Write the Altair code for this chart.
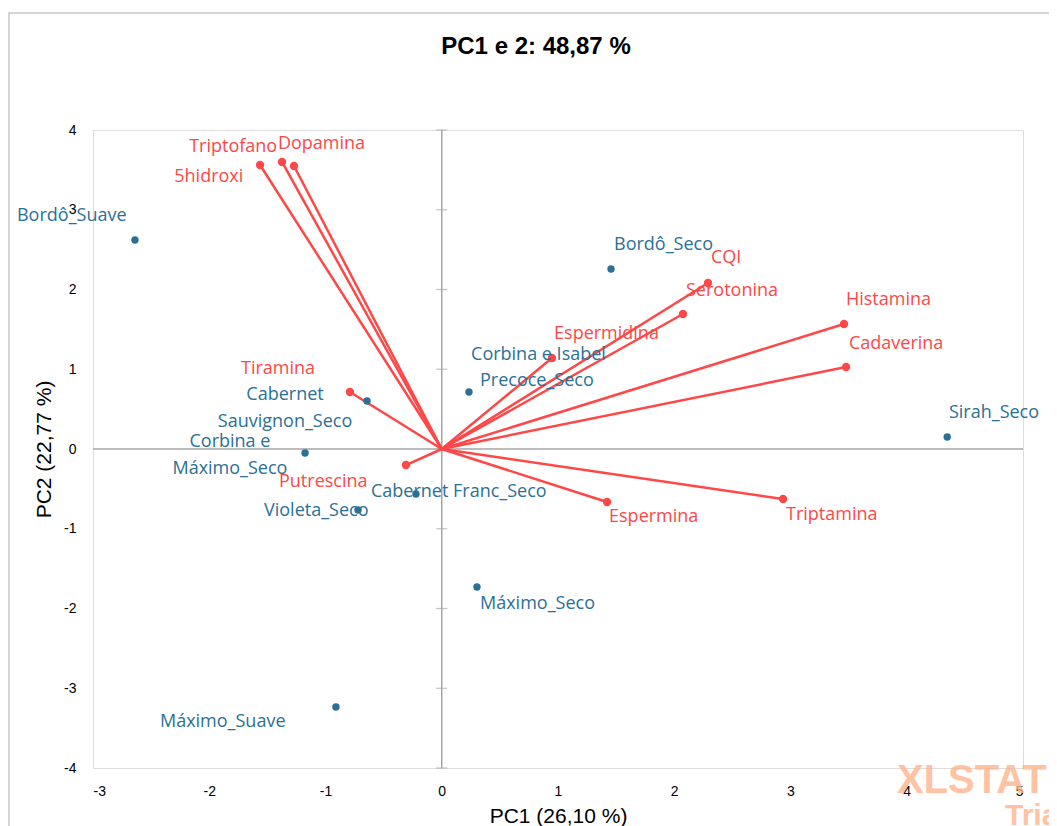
import altair as alt
import pandas as pd

# ---------------- data ----------------
obs_names = ["Bordô_Suave", "Bordô_Seco", "Corbina e Isabel", "Precoce_Seco",
             "Cabernet\nSauvignon_Seco", "Corbina e\nMáximo_Seco", "Cabernet Franc_Seco",
             "Violeta_Seco", "Máximo_Seco", "Máximo_Suave", "Sirah_Seco"]
obs_x = [-2.639, 1.456, 0.948, 0.234, -0.643, -1.176, -0.222, -0.720, 0.303, -0.910, 4.348]
obs_y = [2.621, 2.257, 1.141, 0.715, 0.602, -0.050, -0.564, -0.765, -1.730, -3.235, 0.150]
# label anchor positions (data units)
obs_lx = [-3.654, 1.482, 0.252, 0.329, -1.348, -1.822, -0.609, -1.529, 0.329, -2.424, 4.363]
obs_ly = [2.922, 2.558, 1.179, 0.853, 0.683, 0.094, -0.539, -0.777, -1.944, -3.423, 0.451]

var_names = ["5hidroxi", "Triptofano", "Dopamina", "CQI", "Serotonina", "Histamina",
             "Cadaverina", "Espermidina", "Tiramina", "Putrescina", "Espermina", "Triptamina"]
var_x = [-1.563, -1.374, -1.271, 2.290, 2.075, 3.460, 3.478, 0.948, -0.790, -0.308, 1.422, 2.936]
var_y = [3.561, 3.599, 3.549, 2.082, 1.693, 1.567, 1.028, 1.141, 0.715, -0.201, -0.665, -0.627]
var_lx = [-2.301, -2.173, -1.409, 2.316, 2.101, 3.477, 3.503, 0.966, -1.727, -1.400, 1.439, 2.961]
var_ly = [3.411, 3.787, 3.824, 2.395, 1.981, 1.868, 1.317, 1.442, 1.003, -0.414, -0.853, -0.828]

centered_labels = ["Cabernet\nSauvignon_Seco", "Corbina e\nMáximo_Seco"]

x_ticks = [-3, -2, -1, 0, 1, 2, 3, 4, 5]
y_ticks = [-4, -3, -2, -1, 0, 1, 2, 3, 4]

title_text = "PC1 e 2: 48,87 %"
x_title = "PC1 (26,10 %)"
y_title = "PC2 (22,77 %)"

BLUE = "#2B7095"
RED = "#FF4747"
GRAY = "#A6A6A6"

obs = pd.DataFrame({"name": obs_names, "x": obs_x, "y": obs_y, "lx": obs_lx, "ly": obs_ly})
var = pd.DataFrame({"name": var_names, "x": var_x, "y": var_y, "lx": var_lx, "ly": var_ly,
                    "x0": [0.0] * len(var_names), "y0": [0.0] * len(var_names)})
obs["centered"] = obs["name"].isin(centered_labels)

xs = alt.Scale(domain=[-3, 5], nice=False, zero=False)
ys = alt.Scale(domain=[-4, 4], nice=False, zero=False)

x_axis = alt.Axis(values=x_ticks, grid=False, ticks=False, domain=False, labelFont="Liberation Sans",
                  labelFontSize=14, labelColor="black", labelPadding=16, title=x_title,
                  labelExpr="datum.value + ''",
                  titleFont="Liberation Sans", titleFontSize=21, titleFontWeight="normal",
                  titleColor="black", titlePadding=7)
y_axis = alt.Axis(values=y_ticks, grid=False, ticks=False, domain=False, labelFont="Liberation Sans",
                  labelFontSize=14, labelColor="black", labelPadding=17, title=y_title,
                  labelExpr="datum.value + ''",
                  titleFont="Liberation Sans", titleFontSize=21, titleFontWeight="normal",
                  titleColor="black", titlePadding=9)

base_x = alt.X("x:Q", scale=xs, axis=x_axis)
base_y = alt.Y("y:Q", scale=ys, axis=y_axis)

frame = alt.Chart(pd.DataFrame({"a": [0]})).mark_rect(
    fill=None, stroke="#C8C8C8", strokeWidth=1.5
).encode(x=alt.value(-84), y=alt.value(-117), x2=alt.value(990), y2=alt.value(720))

zero_v = alt.Chart(pd.DataFrame({"x": [0]})).mark_rule(color=GRAY, strokeWidth=1.5).encode(
    x=alt.X("x:Q", scale=xs))
zero_h = alt.Chart(pd.DataFrame({"y": [0]})).mark_rule(color=GRAY, strokeWidth=1.5).encode(
    y=alt.Y("y:Q", scale=ys))
ticks = alt.Chart(pd.DataFrame({"x": [0] * len(y_ticks), "y": y_ticks})).mark_tick(
    orient="horizontal", size=11, thickness=1.2, color=GRAY
).encode(x=alt.X("x:Q", scale=xs), y=alt.Y("y:Q", scale=ys))

vectors = alt.Chart(var).mark_rule(color=RED, strokeWidth=2.5).encode(
    x=alt.X("x0:Q", scale=xs), y=alt.Y("y0:Q", scale=ys), x2="x:Q", y2="y:Q")

obs_pts = alt.Chart(obs).mark_point(filled=True, size=55, opacity=1, color=BLUE).encode(
    x=base_x, y=base_y)
var_pts = alt.Chart(var).mark_point(filled=True, size=70, opacity=1, color=RED).encode(
    x=alt.X("x:Q", scale=xs), y=alt.Y("y:Q", scale=ys))

lab_font = "Open Sans"
obs_lab_left = alt.Chart(obs).transform_filter("!datum.centered").mark_text(
    align="left", baseline="middle", font=lab_font, fontSize=18, color=BLUE
).encode(x=alt.X("lx:Q", scale=xs), y=alt.Y("ly:Q", scale=ys), text="name:N")
obs_lab_center = alt.Chart(obs).transform_filter("datum.centered").mark_text(
    align="center", baseline="middle", font=lab_font, fontSize=18, color=BLUE,
    lineBreak="\n", lineHeight=27
).encode(x=alt.X("lx:Q", scale=xs), y=alt.Y("ly:Q", scale=ys), text="name:N")
var_lab = alt.Chart(var).mark_text(
    align="left", baseline="middle", font=lab_font, fontSize=18, color=RED
).encode(x=alt.X("lx:Q", scale=xs), y=alt.Y("ly:Q", scale=ys), text="name:N")

title = alt.Chart(pd.DataFrame({"t": [title_text]})).mark_text(
    align="center", baseline="middle", font="Liberation Sans", fontSize=24, fontWeight="bold",
    color="black"
).encode(x=alt.value(443), y=alt.value(-83), text="t:N")

wm1 = alt.Chart(pd.DataFrame({"t": ["XLSTAT"]})).mark_text(
    align="left", baseline="middle", font="Liberation Sans", fontSize=40, fontWeight="bold",
    color="#FFB48C", opacity=0.8
).encode(x=alt.value(804), y=alt.value(651), text="t:N")
wm2 = alt.Chart(pd.DataFrame({"t": ["Trial"]})).mark_text(
    align="left", baseline="middle", font="Liberation Sans", fontSize=30, fontWeight="bold",
    color="#FFB48C", opacity=0.8
).encode(x=alt.value(912), y=alt.value(686), text="t:N")

chart = alt.layer(
    frame, zero_v, zero_h, ticks, vectors, obs_pts, var_pts,
    obs_lab_left, obs_lab_center, var_lab, title, wm1, wm2
).properties(
    width=930, height=638,
    autosize=alt.AutoSizeParams(type="none"),
    padding={"left": 85, "top": 122, "right": 26, "bottom": 58},
).configure_view(stroke="#BFBFBF", strokeWidth=1.5).configure(background="white")

chart.save("out.html", embed_options={"renderer": "svg", "actions": False})
